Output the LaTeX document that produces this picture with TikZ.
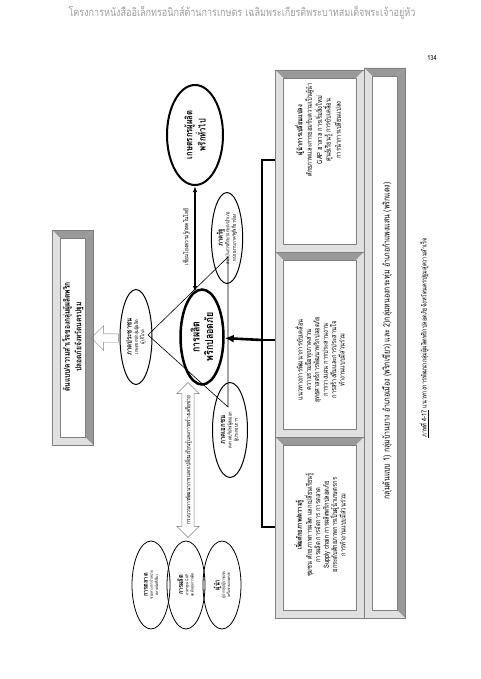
\documentclass[tikz,border=0pt]{standalone}
\usepackage{fontspec}
\setmainfont[Script=Thai,FakeStretch=0.8]{Loma}
\usetikzlibrary{arrows.meta, positioning, shapes.geometric, shapes.arrows}
\definecolor{bevdark}{gray}{0.6}
\definecolor{bevlight}{gray}{0.88}
\definecolor{headgray}{gray}{0.62}
\tikzset{
  boxtext/.style={rotate=90,align=center,inner sep=0pt,font=\fontsize{7.2}{8.4}\selectfont},
  blob/.style={ellipse,draw,rotate=90,align=center,inner sep=1pt,line width=1pt,font=\fontsize{5}{6.4}\selectfont},
  bigblob/.style={blob,line width=2.5pt,font=\bfseries\fontsize{11}{13.5}\selectfont},
  petal/.style={blob,line width=0.8pt,minimum width=88pt,minimum height=38pt,font=\fontsize{4}{5.2}\selectfont},
  label/.style={rotate=90,inner sep=0pt,font=\fontsize{6}{7}\selectfont},
  line/.style={-Latex},
  tri/.style={line width=0.6pt},
  fat/.style={line width=2.6pt}
}
% bevelled frame: x1,y1,x2,y2, top colour, right colour
\newcommand{\bevelbox}[6]{%
  \fill[white] (#1,#2) rectangle (#3,#4);
  \fill[#5] (#1,#2) -- (#3,#2) -- ({#3-8},{#2+8}) -- ({#1+8},{#2+8}) -- cycle;
  \fill[#6] (#3,#2) -- (#3,#4) -- ({#3-8},{#4-8}) -- ({#3-8},{#2+8}) -- cycle;
  \fill[bevlight] (#3,#4) -- (#1,#4) -- ({#1+8},{#4-8}) -- ({#3-8},{#4-8}) -- cycle;
  \fill[bevlight] (#1,#4) -- (#1,#2) -- ({#1+8},{#2+8}) -- ({#1+8},{#4-8}) -- cycle;
  \draw[gray,line width=0.4pt] (#1,#2) rectangle (#3,#4) ({#1+8},{#2+8}) rectangle ({#3-8},{#4-8});
}

\begin{document}
\begin{tikzpicture}[x=1pt,y=-1pt]
\useasboundingbox (0,0) rectangle (480,679);
\fill[white] (0,0) rectangle (480,679);

% page furniture
\node[text=headgray,font=\fontsize{11.3}{13}\selectfont] (head) at (242,13) {โครงการหนังสืออิเล็กทรอนิกส์ด้านการเกษตร เฉลิมพระเกียรติพระบาทสมเด็จพระเจ้าอยู่หัว};
\node[font=\fontsize{7}{8}\selectfont] (page) at (432,58) {134};
\node[label,font=\fontsize{7}{9}\selectfont] (caption) at (424,338) {\underline{ภาพที่ 4-17} แนวทางการพัฒนากลุ่มผู้ผลิตพริกปลอดภัยจังหวัดนครปฐมสู่ความสำเร็จ};

% frames
\bevelbox{364}{68}{405}{618}{bevdark}{bevdark}
\bevelbox{275}{70}{364}{252}{bevdark}{bevlight}
\bevelbox{275}{252}{364}{437}{bevdark}{bevlight}
\bevelbox{275}{437}{364}{618}{bevdark}{bevlight}
\bevelbox{52}{230}{93}{445}{bevdark}{bevdark}

\node[label,font=\fontsize{8.7}{10}\selectfont] (proto) at (387,341) {กลุ่มต้นแบบ 1) กลุ่มบ้านยาง อำเภอเมือง (พริกเขียว) และ 2)กลุ่มหนองกระทุ่ม อำเภอกำแพงแสน (พริกแดง)};
\node[boxtext] (lead) at (318,130) {\textbf{ผู้นำการเปลี่ยนแปลง}\\ศักยภาพและการยอมรับความเป็นผู้นำ\\GAP ฮาลาล การเริ่มสิ่งใหม่\\ศูนย์เรียนรู้ การขับเคลื่อน\\การนำการเปลี่ยนแปลง};
\node[boxtext] (plan) at (320,360) {แนวทางการพัฒนาการขับเคลื่อน\\ความร่วมมือทุกภาคส่วน\\ยุทธศาสตร์การพัฒนาพริกปลอดภัย\\การวางแผน การประสานงาน\\การสร้างทีมและการประสานใจ\\ทำงานแบบมีส่วนร่วม};
\node[boxtext] (skill) at (320,525) {\textbf{เพิ่มศักยภาพ/ความรู้}\\ชุมชน ศักยภาพการผลิต แลกเปลี่ยนเรียนรู้\\การผลิต การจัดการ การตลาด\\Supply chain การผลิตพริกปลอดภัย\\ยกระดับศักยภาพการเป็นผู้นำเกษตรกร\\การทำงานแบบมีส่วนร่วม};
\node[rotate=90,align=center,inner sep=0pt,font=\bfseries\fontsize{8.3}{11.5}\selectfont] (model) at (73,337) {ต้นแบบ/ความสำเร็จของกลุ่มผู้ผลิตพริก\\ปลอดภัยจังหวัดนครปฐม};

% ellipses
\node[bigblob,minimum width=95pt,minimum height=43pt] (core) at (202,337) {การผลิต\\พริกปลอดภัย};
\node[blob,line width=2pt,minimum width=100pt,minimum height=56pt,font=\bfseries\fontsize{9.5}{12}\selectfont] (farmer) at (195,135) {เกษตรกรผู้ผลิต\\พริกทั่วไป};
\node[blob,minimum width=91pt,minimum height=31pt] (gov) at (227,238) {{\bfseries\fontsize{7.5}{8.5}\selectfont ภาครัฐ}\\สถาบันการศึกษา/เกษตรอำเภอ\\หน่วยงานภาครัฐที่เกี่ยวข้อง};
\node[blob,minimum width=95pt,minimum height=32pt] (people) at (136,337) {{\bfseries\fontsize{7.5}{8.5}\selectfont ภาคประชาชน}\\เกษตรกร/กลุ่มผู้ผลิต\\ผู้บริโภค};
\node[blob,minimum width=95pt,minimum height=35pt] (firm) at (230,430) {{\bfseries\fontsize{7.5}{8.5}\selectfont ภาคเอกชน}\\ตลาด/บริษัท/ผู้ส่งออก\\ผู้ประกอบการ};
\node[petal] (market) at (151,585) {{\bfseries\fontsize{7}{8}\selectfont การตลาด}\\ช่องทางการจำหน่าย\\ตลาดนัดสีเขียว};
\node[petal] (yield) at (186,585) {{\bfseries\fontsize{7}{8}\selectfont การผลิต}\\มาตรฐาน GAP\\ลดต้นทุนการผลิต};
\node[petal] (chief) at (222,585) {{\bfseries\fontsize{7}{8}\selectfont ผู้นำ}\\ผู้นำกลุ่ม/ผู้นำชุมชน\\เครือข่ายเกษตรกร};

% block arrows
\node[double arrow,draw=gray,rotate=90,minimum height=155pt,inner sep=2pt,double arrow head extend=5pt,font=\fontsize{6}{7}\selectfont] (swap) at (188,460) {กระบวนการพัฒนาการแลกเปลี่ยนเรียนรู้และการสร้างเครือข่าย};
\node[single arrow,draw=gray,rotate=180,minimum height=27pt,inner sep=4pt,single arrow head extend=8pt] (toward) at (107,338) {};

% connectors
\coordinate (b1) at (275,160);
\coordinate (b2) at (275,340);
\coordinate (b3) at (275,527);
\coordinate (hub) at (262,340);
\coordinate (linkbot) at (195,292);
\draw[fat] (b1) -| (hub) |- (b3);
\draw[fat] (b2) -- (hub);
\draw[fat,-{Latex[length=9pt,width=8pt]}] (hub) -- (core);
\draw[{Latex[length=6pt]}-{Latex[length=6pt]},line width=1.2pt] (linkbot) -- (farmer);
\node[label] (linklabel) at (186,237) {เชื่อมโยงความรู้/เทคโนโลยี};

\coordinate (tp) at (148,335);
\coordinate (tg) at (228,257);
\coordinate (tc) at (228,407);
\draw[tri] (tp) -- (tg) -- (tc) -- cycle;
\end{tikzpicture}
\end{document}
